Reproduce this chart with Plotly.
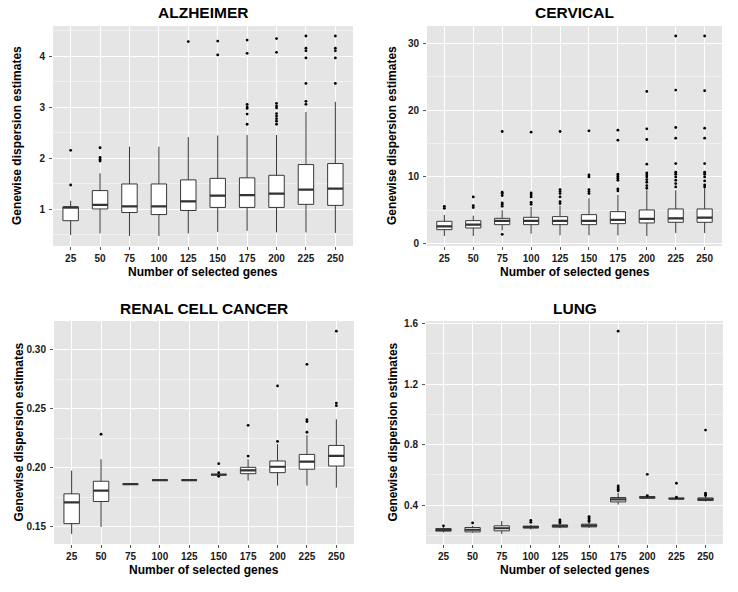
import plotly.graph_objects as go
from plotly.subplots import make_subplots

genes = ["25", "50", "75", "100", "125", "150", "175", "200", "225", "250"]

# ---------------- ALZHEIMER ----------------
alz_lo  = [0.50, 0.53, 0.48, 0.48, 0.53, 0.56, 0.58, 0.55, 0.55, 0.54]
alz_q1  = [0.78, 1.01, 0.94, 0.90, 0.98, 1.04, 1.04, 1.04, 1.10, 1.08]
alz_med = [1.04, 1.09, 1.06, 1.06, 1.16, 1.27, 1.28, 1.31, 1.39, 1.41]
alz_q3  = [1.05, 1.37, 1.50, 1.50, 1.58, 1.61, 1.62, 1.67, 1.88, 1.90]
alz_hi  = [1.17, 1.71, 2.23, 2.23, 2.42, 2.45, 2.46, 2.46, 2.91, 3.11]
alz_out = [
    [1.48, 2.16],
    [1.95, 1.98, 2.02, 2.21],
    [],
    [],
    [4.29],
    [4.03, 4.30],
    [2.67, 2.87, 2.98, 3.01, 3.06, 4.06, 4.32],
    [2.67, 2.73, 2.78, 2.83, 2.88, 2.99, 3.03, 3.08, 4.08, 4.35],
    [3.06, 3.12, 3.47, 3.97, 4.11, 4.16, 4.40],
    [3.47, 3.97, 4.11, 4.16, 4.40],
]

# ---------------- CERVICAL ----------------
cer_lo  = [1.15, 1.15, 2.0, 1.5, 1.25, 1.25, 1.25, 1.15, 1.6, 1.6]
cer_q1  = [2.1, 2.35, 2.85, 2.85, 2.85, 2.85, 3.0, 3.1, 3.2, 3.2]
cer_med = [2.6, 2.85, 3.4, 3.4, 3.4, 3.4, 3.55, 3.7, 3.8, 3.9]
cer_q3  = [3.35, 3.45, 3.8, 3.95, 4.05, 4.35, 4.8, 5.05, 5.2, 5.2]
cer_hi  = [4.3, 4.2, 5.0, 5.5, 5.7, 6.8, 7.3, 8.0, 8.0, 8.3]
cer_out = [
    [5.3, 5.6],
    [5.4, 5.7, 7.0],
    [1.4, 5.6, 5.9, 6.1, 7.2, 7.5, 7.7, 16.8],
    [5.9, 6.2, 7.0, 7.3, 7.6, 16.7],
    [6.0, 6.3, 7.0, 7.5, 7.8, 8.1, 16.8],
    [7.5, 7.8, 8.1, 10.0, 10.3, 16.9],
    [7.9, 8.2, 9.5, 9.8, 10.1, 10.4, 15.5, 17.0],
    [8.3, 8.7, 9.2, 9.6, 10.0, 10.3, 10.6, 11.9, 15.6, 17.2, 22.8],
    [8.5, 9.0, 9.5, 10.0, 10.4, 10.7, 12.0, 15.8, 17.4, 23.0, 31.1],
    [8.5, 8.8, 9.4, 10.0, 10.4, 10.7, 12.0, 15.8, 17.3, 22.9, 31.1],
]

# ---------------- RENAL CELL CANCER ----------------
ren_lo  = [0.1438, 0.1497, 0.1860, 0.1894, 0.1894, 0.1941, 0.1890, 0.1848, 0.1848, 0.1831]
ren_q1  = [0.1525, 0.1713, 0.1860, 0.1894, 0.1894, 0.1941, 0.1949, 0.1958, 0.1987, 0.2014]
ren_med = [0.1705, 0.1806, 0.1860, 0.1894, 0.1894, 0.1941, 0.1978, 0.2008, 0.2051, 0.2101]
ren_q3  = [0.1778, 0.1885, 0.1860, 0.1894, 0.1894, 0.1941, 0.2003, 0.2057, 0.2113, 0.2189]
ren_hi  = [0.1975, 0.2071, 0.1860, 0.1894, 0.1894, 0.1941, 0.2071, 0.2200, 0.2276, 0.2411]
ren_out = [
    [],
    [0.2284],
    [],
    [],
    [],
    [0.1927, 0.1958, 0.2034],
    [0.2099, 0.2360],
    [0.2223, 0.2695],
    [0.2301, 0.2392, 0.2408, 0.2878],
    [0.2527, 0.2549, 0.3160],
]

# ---------------- LUNG ----------------
lun_lo  = [0.220, 0.218, 0.211, 0.240, 0.248, 0.250, 0.404, 0.444, 0.440, 0.425]
lun_q1  = [0.229, 0.224, 0.231, 0.250, 0.255, 0.257, 0.422, 0.446, 0.442, 0.431]
lun_med = [0.237, 0.238, 0.248, 0.256, 0.263, 0.266, 0.438, 0.452, 0.444, 0.439]
lun_q3  = [0.246, 0.253, 0.264, 0.262, 0.270, 0.275, 0.451, 0.457, 0.446, 0.448]
lun_hi  = [0.255, 0.264, 0.296, 0.270, 0.278, 0.285, 0.481, 0.460, 0.450, 0.458]
lun_out = [
    [0.264],
    [0.283],
    [],
    [0.287, 0.300],
    [0.283, 0.292, 0.303],
    [0.292, 0.300, 0.310, 0.318, 0.325],
    [0.495, 0.505, 0.515, 0.527, 1.549],
    [0.464, 0.604],
    [0.453, 0.545],
    [0.464, 0.470, 0.479, 0.896],
]

titles = ["ALZHEIMER", "CERVICAL", "RENAL CELL CANCER", "LUNG"]
panels = [
    (alz_lo, alz_q1, alz_med, alz_q3, alz_hi, alz_out),
    (cer_lo, cer_q1, cer_med, cer_q3, cer_hi, cer_out),
    (ren_lo, ren_q1, ren_med, ren_q3, ren_hi, ren_out),
    (lun_lo, lun_q1, lun_med, lun_q3, lun_hi, lun_out),
]
major_dtick = [1, 10, 0.05, 0.4]
tick_fmt = ["d", "d", ".2f", ".1f"]

W, H = 738, 592
# plot areas in pixels: (left, right, top, bottom)
areas = [(53, 353, 26, 246), (427, 722, 26, 246), (54, 354, 321, 544), (426, 723, 321, 544)]
ytitle_x = [17, 392, 18, 392]

FONT = "Liberation Sans, Arial, sans-serif"
BOXLINE = "#383838"

fig = make_subplots(rows=2, cols=2)

annotations = []
for i, (lo, q1, med, q3, hi, out) in enumerate(panels):
    r, c = i // 2 + 1, i % 2 + 1
    fig.add_trace(go.Box(
        x=genes, q1=q1, median=med, q3=q3, lowerfence=lo, upperfence=hi,
        fillcolor="white", line=dict(color=BOXLINE, width=1), whiskerwidth=0,
        boxpoints=False, hoverinfo="skip", showlegend=False,
    ), row=r, col=c)
    # thicker median line
    fig.add_trace(go.Box(
        x=genes, q1=med, median=med, q3=med, lowerfence=med, upperfence=med,
        fillcolor="rgba(0,0,0,0)", line=dict(color="#333333", width=2.2), whiskerwidth=0,
        boxpoints=False, hoverinfo="skip", showlegend=False,
    ), row=r, col=c)
    ox, oy = [], []
    for g, vals in zip(genes, out):
        for v in vals:
            ox.append(g)
            oy.append(v)
    fig.add_trace(go.Scatter(
        x=ox, y=oy, mode="markers", marker=dict(color="black", size=2.8),
        hoverinfo="skip", showlegend=False,
    ), row=r, col=c)

    allv = lo + hi + [v for vs in out for v in vs]
    vmin, vmax = min(allv), max(allv)
    pad = 0.05 * (vmax - vmin)

    L, R, T, B = areas[i]
    xd = [L / W, R / W]
    yd = [1 - B / H, 1 - T / H]
    fig.update_xaxes(
        domain=xd, type="category", categoryorder="array", categoryarray=genes,
        range=[-0.6, 9.6], showgrid=True, gridcolor="white", gridwidth=1,
        ticks="outside", ticklen=3, tickcolor="#555555", tickwidth=1,
        tickfont=dict(family=FONT, size=10, color="#1a1a1a", weight="bold"),
        showline=False, zeroline=False, automargin=False, row=r, col=c,
    )
    dt = major_dtick[i]
    fig.update_yaxes(
        domain=yd, range=[vmin - pad, vmax + pad], dtick=dt, tick0=0,
        tickformat=tick_fmt[i],
        showgrid=True, gridcolor="white", gridwidth=1,
        minor=dict(dtick=dt / 2, tick0=dt / 2, showgrid=True, gridcolor="#F0F0F0",
                   gridwidth=0.6, ticks=""),
        ticks="outside", ticklen=3, tickcolor="#555555", tickwidth=1,
        ticklabelstandoff=2,
        tickfont=dict(family=FONT, size=10, color="#1a1a1a", weight="bold"),
        showline=False, zeroline=False, automargin=False, row=r, col=c,
    )

    cx = (L + R) / 2 / W
    annotations.append(dict(
        text=titles[i], x=cx, y=1 - (T - 13) / H, xref="paper", yref="paper",
        xanchor="center", yanchor="middle", showarrow=False,
        font=dict(family=FONT, size=15.5, color="black", weight="bold"),
    ))
    annotations.append(dict(
        text="Number of selected genes", x=cx, y=1 - (B + 26) / H, xref="paper", yref="paper",
        xanchor="center", yanchor="middle", showarrow=False,
        font=dict(family=FONT, size=12, color="black", weight="bold"),
    ))
    annotations.append(dict(
        text="Genewise dispersion estimates", x=ytitle_x[i] / W, y=1 - (T + B) / 2 / H,
        xref="paper", yref="paper", xanchor="center", yanchor="middle", textangle=-90,
        showarrow=False, font=dict(family=FONT, size=12, color="black", weight="bold"),
    ))

fig.update_layout(
    width=W, height=H, margin=dict(l=0, r=0, t=0, b=0),
    paper_bgcolor="white", plot_bgcolor="#E5E5E5",
    boxmode="overlay", boxgap=0.25, showlegend=False,
    annotations=annotations,
)

fig.write_html(
    "out.html",
    config={"displayModeBar": False},
    post_script="document.body.style.margin='0';document.body.style.padding='0';",
)
